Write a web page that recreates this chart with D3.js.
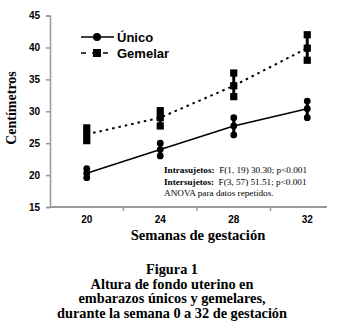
<!DOCTYPE html>
<html><head><meta charset="utf-8">
<script src="https://cdn.jsdelivr.net/npm/d3@7"></script>
<style>body{margin:0;background:#fff}</style>
</head><body>
<svg id="c" width="339" height="330"></svg>
<script>
const weeks = ["20","24","28","32"];
const unicoMean = [20.3, 24.0, 27.7, 30.4];
const unicoHigh = [21.0, 25.0, 29.0, 31.6];
const unicoLow  = [19.6, 23.0, 26.3, 29.0];
const gemelarMean = [26.4, 29.0, 34.0, 39.9];
const gemelarHigh = [27.4, 30.1, 36.0, 42.0];
const gemelarLow  = [25.4, 27.7, 32.3, 38.0];
const yTicks = [15,20,25,30,35,40,45];
const annotations = [
  ["Intrasujetos:", "  F(1, 19) 30.30; p<0.001"],
  ["Intersujetos:", "  F(3, 57) 51.51; p<0.001"],
  ["", "ANOVA para datos repetidos."]
];
const caption = ["Figura 1","Altura de fondo uterino en","embarazos únicos y gemelares,","durante la semana 0 a 32 de gestación"];

const svg = d3.select("#c");
const x = d3.scaleBand().domain(weeks).range([50, 344]);
const y = d3.scaleLinear().domain([15,45]).range([207, 15.6]);
const cx = d => x(d) + x.bandwidth()/2;
const axisCol = "#999";
const sans = "Liberation Sans, Arial, sans-serif";
const serif = "Liberation Serif, Times New Roman, serif";

// y axis
const ya = svg.append("g").attr("transform","translate(50,0)")
  .call(d3.axisLeft(y).tickValues(yTicks).tickSize(4).tickPadding(6));
ya.select(".domain").attr("stroke",axisCol).attr("stroke-width",1.5);
ya.selectAll(".tick line").attr("stroke",axisCol).attr("stroke-width",1.5);
ya.selectAll("text").attr("font-family",sans).attr("font-weight","bold").attr("font-size",10).attr("fill","#000");

// x axis
const xa = svg.append("g").attr("transform","translate(0,207)")
  .call(d3.axisBottom(x).tickSize(0).tickPadding(9));
xa.select(".domain").attr("d","M50,0H327").attr("stroke",axisCol).attr("stroke-width",2.2);
xa.selectAll("text").attr("font-family",sans).attr("font-weight","bold").attr("font-size",10).attr("fill","#000");
// boundary ticks
svg.append("g").selectAll("line").data(weeks.slice(1)).join("line")
  .attr("x1",d=>x(d)).attr("x2",d=>x(d)).attr("y1",207).attr("y2",211)
  .attr("stroke",axisCol).attr("stroke-width",1.5);

// lines
const lineGen = d3.line().x(d=>cx(d[0])).y(d=>y(d[1]));
svg.append("path").datum(weeks.map((w,i)=>[w,unicoMean[i]])).attr("d",lineGen)
  .attr("fill","none").attr("stroke","#000").attr("stroke-width",1.5);
svg.append("path").datum(weeks.map((w,i)=>[w,gemelarMean[i]])).attr("d",lineGen)
  .attr("fill","none").attr("stroke","#000").attr("stroke-width",2).attr("stroke-dasharray","2.5,4");

function markers(mean, hi, lo, shape){
  const g = svg.append("g");
  weeks.forEach((w,i)=>{
    g.append("line").attr("x1",cx(w)).attr("x2",cx(w)).attr("y1",y(hi[i])).attr("y2",y(lo[i]))
      .attr("stroke","#000").attr("stroke-width",3);
    [hi[i],mean[i],lo[i]].forEach(v=>{
      if(shape==="circle") g.append("circle").attr("cx",cx(w)).attr("cy",y(v)).attr("r",3.4).attr("fill","#000");
      else g.append("rect").attr("x",cx(w)-3.6).attr("y",y(v)-3.6).attr("width",7.2).attr("height",7.2).attr("fill","#000");
    });
  });
}
markers(unicoMean, unicoHigh, unicoLow, "circle");
markers(gemelarMean, gemelarHigh, gemelarLow, "square");

// legend
const lg = svg.append("g");
lg.append("line").attr("x1",81).attr("x2",114).attr("y1",37).attr("y2",37).attr("stroke","#000").attr("stroke-width",1.5);
lg.append("circle").attr("cx",97).attr("cy",37).attr("r",4).attr("fill","#000");
lg.append("text").attr("x",117).attr("y",41.5).text("Único").attr("font-family",sans).attr("font-weight","bold").attr("font-size",13);
lg.append("line").attr("x1",81).attr("x2",114).attr("y1",53).attr("y2",53).attr("stroke","#000").attr("stroke-width",1.5).attr("stroke-dasharray","5,6");
lg.append("rect").attr("x",93).attr("y",49).attr("width",8).attr("height",8).attr("fill","#000");
lg.append("text").attr("x",117).attr("y",57.5).text("Gemelar").attr("font-family",sans).attr("font-weight","bold").attr("font-size",13);

// annotations
const an = svg.append("g");
annotations.forEach((a,i)=>{
  const t = an.append("text").attr("x",164).attr("y",173+i*11.5).attr("font-family",serif).attr("font-size",9.2).attr("xml:space","preserve");
  if(a[0]) t.append("tspan").attr("font-weight","bold").text(a[0]);
  t.append("tspan").text(a[1]);
});

// axis titles
svg.append("text").attr("transform","translate(16,108) rotate(-90)").attr("text-anchor","middle")
  .attr("font-family",serif).attr("font-weight","bold").attr("font-size",14).text("Centímetros");
svg.append("text").attr("x",198).attr("y",240).attr("text-anchor","middle")
  .attr("font-family",serif).attr("font-weight","bold").attr("font-size",14.6).text("Semanas de gestación");

// caption
caption.forEach((c,i)=>{
  svg.append("text").attr("x",172).attr("y",274+i*14.6).attr("text-anchor","middle")
    .attr("font-family",serif).attr("font-weight","bold").attr("font-size",14.3).text(c);
});
</script>
</body></html>
